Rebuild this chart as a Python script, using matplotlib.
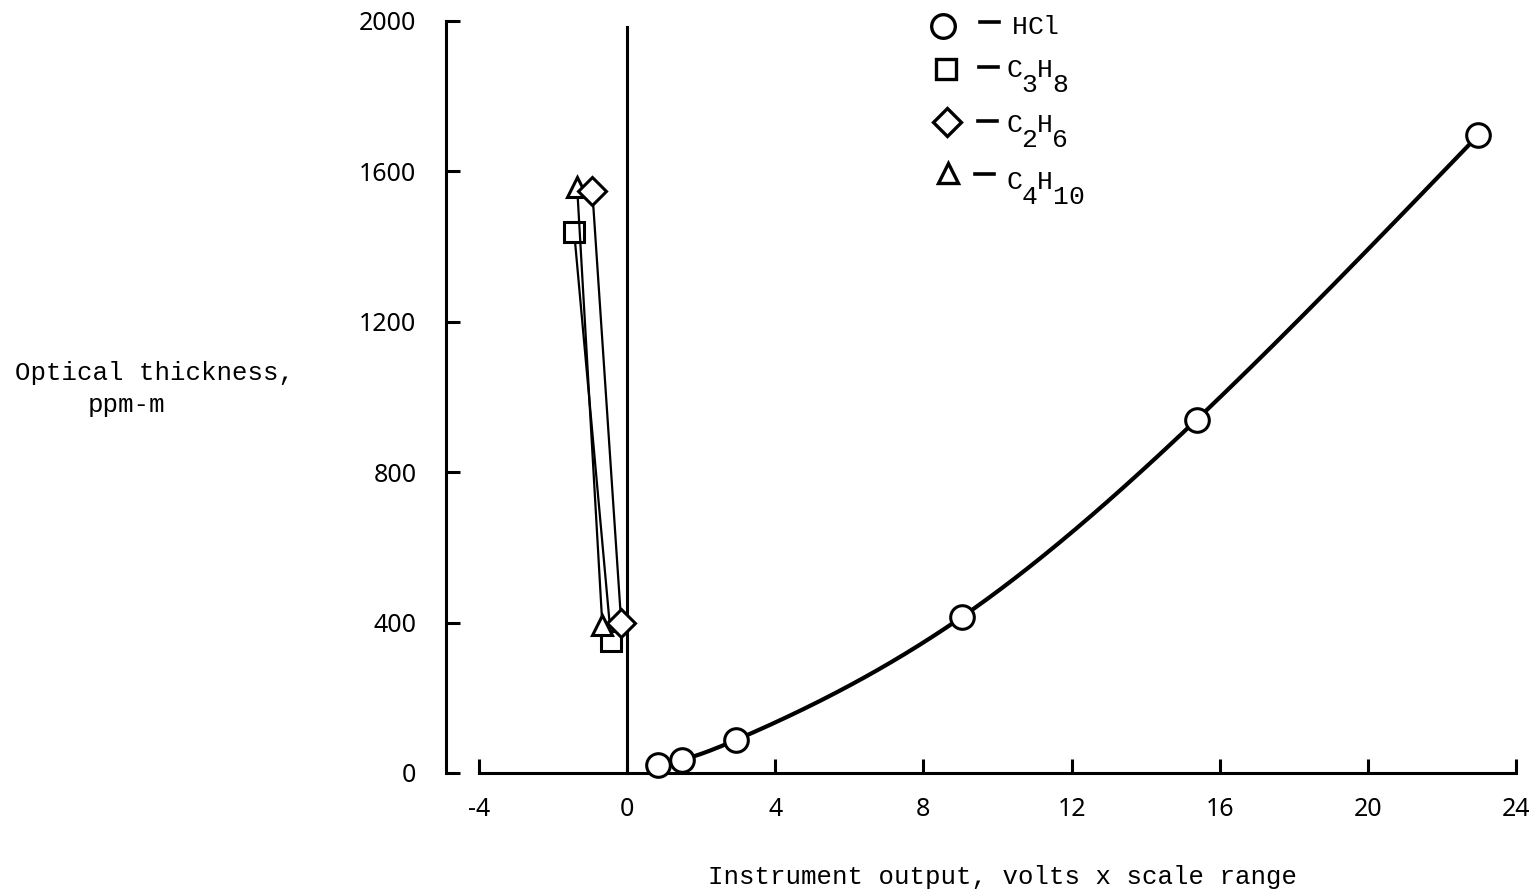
import numpy as np
import matplotlib.pyplot as plt

# calibration data, instrument output vs optical thickness
hcl_x = [0.84, 1.48, 2.94, 9.04, 15.38, 22.98]
hcl_y = [21, 35, 88, 415, 940, 1696]

c3h8_x = [-1.43, -0.43]
c3h8_y = [1438, 352]

c2h6_x = [-0.94, -0.16]
c2h6_y = [1547, 400]

c4h10_x = [-1.35, -0.67]
c4h10_y = [1558, 394]

x_ticks = [-4, 0, 4, 8, 12, 16, 20, 24]
y_ticks = [0, 400, 800, 1200, 1600, 2000]

plt.rcParams["axes.unicode_minus"] = False

TYPE = "Liberation Mono"
W, H = 1540, 894


def natural_spline(x, y, n=300):
    # plain natural cubic spline, so the faired curve passes through each point
    x = np.asarray(x, float)
    y = np.asarray(y, float)
    k = len(x)
    h = np.diff(x)
    A = np.zeros((k, k))
    b = np.zeros(k)
    A[0, 0] = A[-1, -1] = 1
    for i in range(1, k - 1):
        A[i, i - 1] = h[i - 1]
        A[i, i] = 2 * (h[i - 1] + h[i])
        A[i, i + 1] = h[i]
        b[i] = 6 * ((y[i + 1] - y[i]) / h[i] - (y[i] - y[i - 1]) / h[i - 1])
    m = np.linalg.solve(A, b)
    xs = np.linspace(x[0], x[-1], n)
    j = np.clip(np.searchsorted(x, xs) - 1, 0, k - 2)
    t0 = x[j + 1] - xs
    t1 = xs - x[j]
    hj = h[j]
    ys = (m[j] * t0 ** 3 / (6 * hj) + m[j + 1] * t1 ** 3 / (6 * hj)
          + (y[j] / hj - m[j] * hj / 6) * t0
          + (y[j + 1] / hj - m[j + 1] * hj / 6) * t1)
    return xs, ys


fig = plt.figure(figsize=(15.4, 8.94), dpi=100)
ax = fig.add_axes([479 / W, 1 - 773 / H, 1037 / W, 752 / H])

ax.set_xlim(-4, 24)
ax.set_ylim(0, 2000)

for s in ["top", "right"]:
    ax.spines[s].set_visible(False)
ax.spines["left"].set_position(("outward", 24))
ax.spines["left"].set_linewidth(2.2)
ax.spines["bottom"].set_linewidth(2.2)
ax.spines["bottom"].set_bounds(-4, 24)

ax.set_xticks(x_ticks)
ax.set_yticks(y_ticks)
ax.tick_params(axis="x", direction="in", length=10, width=2.2, pad=17,
               labelsize=18)
ax.tick_params(axis="y", direction="in", length=10, width=2.2, pad=21,
               labelsize=18)
for lab in ax.get_xticklabels() + ax.get_yticklabels():
    lab.set_fontfamily("Noto Sans")

# zero line
ax.plot([0, 0], [0, 1985], color="black", lw=2.2, clip_on=False)

# HCl
xs, ys = natural_spline(hcl_x, hcl_y)
ax.plot(xs, ys, color="black", lw=3, zorder=2)
ax.plot(hcl_x, hcl_y, "o", ms=17, mfc="white", mec="black", mew=2.2,
        clip_on=False, zorder=3)

mk = dict(mfc="white", mec="black", mew=2.2, clip_on=False, color="black",
          lw=1.6)
ax.plot(c3h8_x, c3h8_y, "s-", ms=15, **mk)
ax.plot(c4h10_x, c4h10_y, "^-", ms=15, **mk)
ax.plot(c2h6_x, c2h6_y, "D-", ms=14, **mk)


# legend key, typed one character at a time with dropped subscripts
def fig_line(xp, yp, **kw):
    fig.lines.append(plt.Line2D(np.asarray(xp) / W, 1 - np.asarray(yp) / H,
                                transform=fig.transFigure, **kw))


PITCH = 15.5
DROP = 15
entries = [
    ("o", 17, 943, 26, 980, 22, [("H", 0), ("C", 0), ("l", 0)], 1012, 27),
    ("s", 15, 946, 69, 979, 67, [("C", 0), ("3", 1), ("H", 0), ("8", 1)],
     1006, 70),
    ("D", 14, 947, 122, 978, 121, [("C", 0), ("2", 1), ("H", 0), ("6", 1)],
     1006, 125),
    ("^", 15, 948, 173, 975, 174, [("C", 0), ("4", 1), ("H", 0), ("1", 1),
                                   ("0", 1)], 1006, 182),
]
for m, ms, mx, my, dx, dy, chars, tx, ty in entries:
    fig_line([mx], [my], marker=m, ms=ms, mfc="white", mec="black", mew=2.4)
    fig_line([dx, dx + 19], [dy, dy], color="black", lw=2.6)
    for i, (ch, sub) in enumerate(chars):
        fig.text((tx + i * PITCH) / W, 1 - (ty + sub * DROP) / H, ch,
                 family=TYPE, fontsize=19, ha="left", va="center")

# axis titles
fig.text(15 / W, 1 - 373 / H, "Optical thickness,", family=TYPE,
         fontsize=18.5, ha="left", va="center")
fig.text(88 / W, 1 - 405 / H, "ppm-m", family=TYPE, fontsize=18.5,
         ha="left", va="center")
fig.text(1002 / W, 1 - 877 / H, "Instrument output, volts x scale range",
         family=TYPE, fontsize=18.5, ha="center", va="center")

fig.savefig("out.png", dpi=100)
plt.close(fig)
